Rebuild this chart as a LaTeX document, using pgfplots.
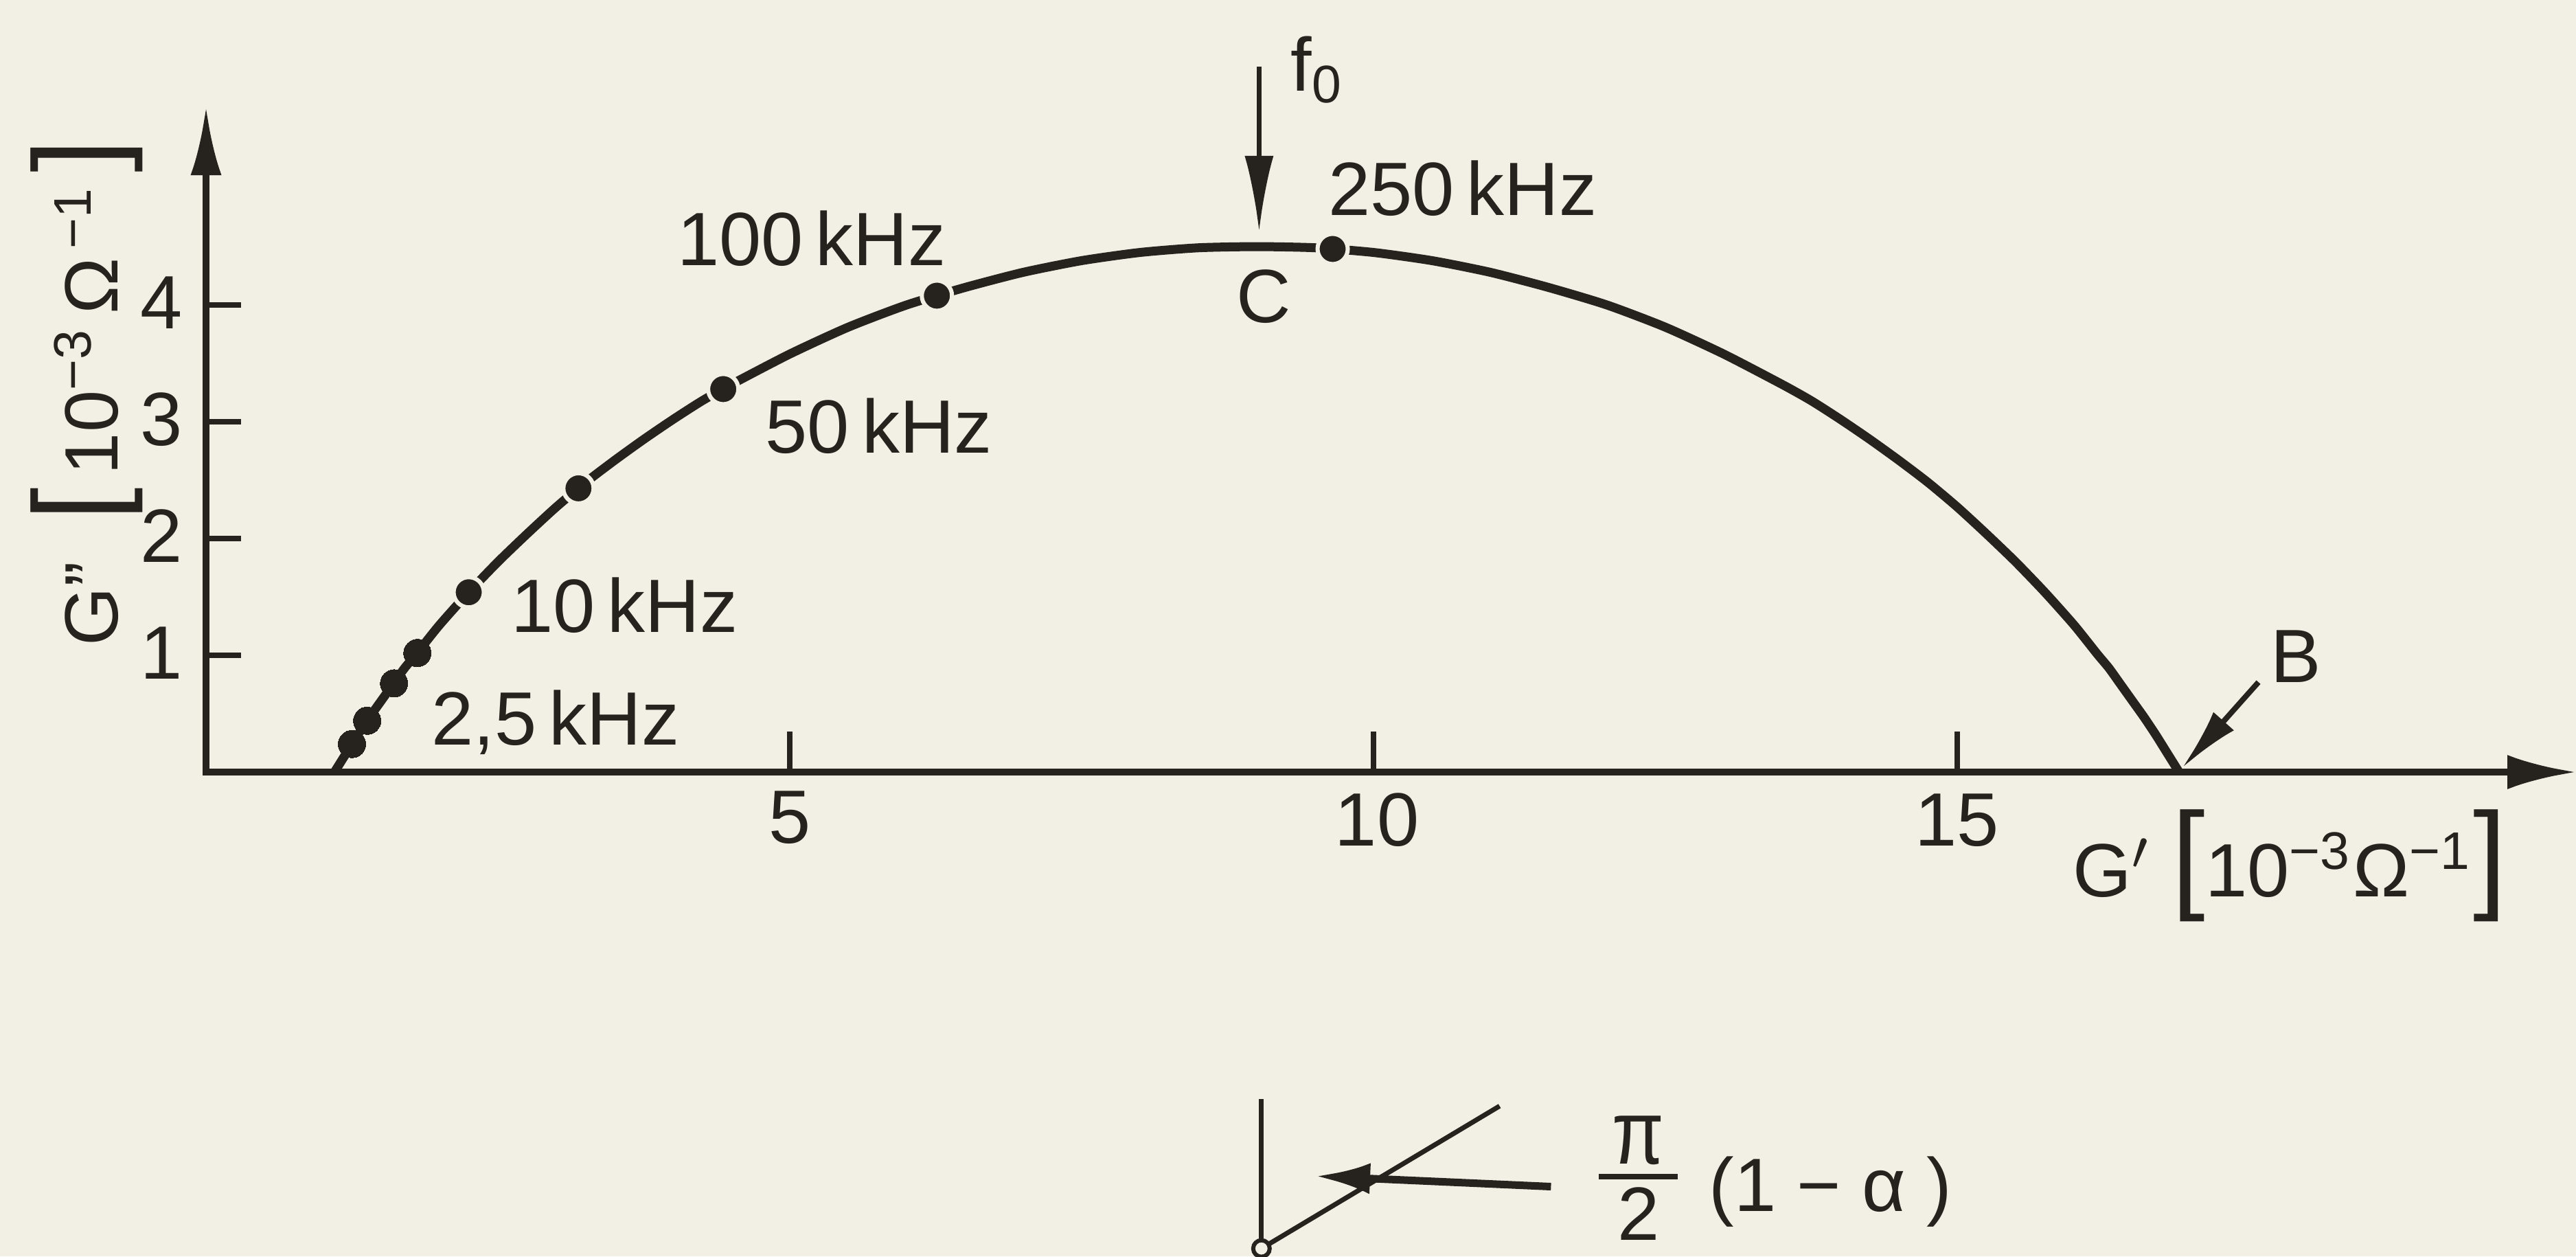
\documentclass[border=0pt]{standalone}
\usepackage{pgfplots}
\pgfplotsset{compat=1.18}
\usepackage{fontspec}
\setmainfont{Liberation Sans}
\usetikzlibrary{arrows.meta}
\definecolor{paper}{RGB}{242,240,229}
\definecolor{ink}{RGB}{38,34,30}
\newcommand\lbl{\fontsize{11}{13}\selectfont}
\newcommand\bigbr[1]{{\fontsize{17.5}{17.5}\selectfont #1}}
% pi over 2, stacked by hand
\newcommand\halfpi{%
  \rlap{\makebox[11.5pt]{\raisebox{6.9pt}{\scalebox{1}[1.2]{π}}}}%
  \rlap{\makebox[11.5pt]{\raisebox{4.6pt}{\rule{11.5pt}{0.8pt}}}}%
  \makebox[11.5pt]{\raisebox{-4.2pt}{2}}}

\begin{document}
\begin{tikzpicture}[lab/.style={font=\lbl, text=ink, inner sep=0pt}]
\begin{axis}[name=ax, hide axis, scale only axis,
  width=375.1pt, height=182.9pt,
  xmin=-1.765, xmax=20.30, ymin=-4.147, ymax=6.612, clip=false]

% paper
\fill[paper] (axis cs:-1.765,-4.147) rectangle (axis cs:20.30,6.612);

% axes with arrows
\draw[ink, line width=1pt, {Latex[length=10pt,width=4.5pt]}-{Latex[length=10pt,width=5pt]}]
  (axis cs:0,5.7) -- (axis cs:0,0) -- (axis cs:20.30,0);

% ticks
\draw[ink, line width=0.8pt] (axis cs:5,0) -- (axis cs:5,0.35);
\draw[ink, line width=0.8pt] (axis cs:10,0) -- (axis cs:10,0.35);
\draw[ink, line width=0.8pt] (axis cs:15,0) -- (axis cs:15,0.35);
\draw[ink, line width=0.8pt] (axis cs:0,1) -- (axis cs:0.3,1);
\draw[ink, line width=0.8pt] (axis cs:0,2) -- (axis cs:0.3,2);
\draw[ink, line width=0.8pt] (axis cs:0,3) -- (axis cs:0.3,3);
\draw[ink, line width=0.8pt] (axis cs:0,4) -- (axis cs:0.3,4);

% tick labels
\node[lab, anchor=base] at (axis cs:5,-0.61) {5};
\node[lab, anchor=base] at (axis cs:10.03,-0.63) {10};
\node[lab, anchor=base] at (axis cs:15,-0.63) {15};
\node[lab, anchor=base east] at (axis cs:-0.19,0.80) {1};
\node[lab, anchor=base east] at (axis cs:-0.19,1.80) {2};
\node[lab, anchor=base east] at (axis cs:-0.19,2.80) {3};
\node[lab, anchor=base east] at (axis cs:-0.19,3.80) {4};

% axis titles
\node[lab] at (axis cs:17.85,-0.80)
  {G$'$\hspace{3pt}\bigbr{[}10\textsuperscript{−3}Ω\textsuperscript{−1}\bigbr{]}};
\node[lab, rotate=90] at (axis cs:-1.02,3.25)
  {G\symbol{"22}\hspace{6pt}\bigbr{[}\,10\textsuperscript{−3}\,Ω\textsuperscript{\,−1}\,\bigbr{]}};

% admittance locus
\addplot[ink, line width=1.3pt, smooth, tension=0.4] coordinates {
  (1.1,0) (1.2,0.16) (1.3,0.32) (1.4,0.47) (1.5,0.61) (1.6,0.75) (1.7,0.89)
  (1.8,1.01) (2.0,1.26) (2.25,1.54) (2.5,1.80) (2.75,2.04) (3.0,2.27)
  (3.25,2.48) (3.5,2.67) (3.75,2.85) (4.0,3.02) (4.25,3.18) (4.5,3.32)
  (5.0,3.58) (5.5,3.81) (6.0,4.00) (6.5,4.15) (7.0,4.28) (7.5,4.38)
  (8.0,4.45) (8.5,4.49) (9.0,4.50) (9.5,4.49) (10.0,4.45) (10.5,4.38)
  (11.0,4.28) (11.5,4.15) (12.0,4.00) (12.5,3.81) (13.0,3.58) (13.5,3.32)
  (13.75,3.18) (14.0,3.02) (14.25,2.85) (14.5,2.67) (14.75,2.48) (15.0,2.27)
  (15.25,2.04) (15.5,1.80) (15.75,1.54) (16.0,1.26) (16.2,1.01) (16.3,0.89)
  (16.4,0.75) (16.5,0.61) (16.6,0.47) (16.7,0.32) (16.8,0.16) (16.9,0)
};

% measured frequencies, low end
\addplot[only marks, mark=*, mark size=2pt,
  mark options={fill=ink, draw=ink, line width=0pt}] coordinates {
  (1.25,0.24) (1.38,0.44) (1.61,0.76) (1.81,1.02)
};
% measured frequencies, upper part
\addplot[only marks, mark=*, mark size=2.2pt,
  mark options={fill=ink, draw=paper, line width=0.6pt}] coordinates {
  (2.25,1.54) (3.19,2.43) (4.43,3.28) (6.26,4.08) (9.65,4.48)
};

% frequency labels
\node[lab, anchor=base west] at (axis cs:9.60,4.77) {250\,kHz};
\node[lab, anchor=base east] at (axis cs:6.35,4.34) {100\,kHz};
\node[lab, anchor=base west] at (axis cs:4.78,2.73) {50\,kHz};
\node[lab, anchor=base west] at (axis cs:2.60,1.20) {10\,kHz};
\node[lab, anchor=base west] at (axis cs:1.92,0.23) {2,5\,kHz};

% characteristic frequency and point C
\draw[ink, line width=0.7pt, -{Latex[length=11pt,width=4.2pt]}]
  (axis cs:9.02,6.04) -- (axis cs:9.02,4.63);
\node[lab, anchor=base west] at (axis cs:9.28,5.83) {f\textsubscript{0}};
\node[lab, anchor=base] at (axis cs:9.06,3.85) {C};

% point B
\draw[ink, line width=0.8pt, -{Latex[length=9pt,width=4pt]}]
  (axis cs:17.58,0.77) -- (axis cs:16.93,0.04);
\node[lab, anchor=base] at (axis cs:17.9,0.77) {B};

% depression angle sketch
\draw[ink, line width=0.7pt] (axis cs:9.04,-2.8) -- (axis cs:9.04,-4.05);
\draw[ink, line width=0.7pt] (axis cs:9.04,-4.08) -- (axis cs:11.08,-2.86);
\draw[ink, line width=0.6pt, fill=paper] (axis cs:9.04,-4.08) circle[radius=1.2pt];
\draw[ink, line width=1.1pt, -{Latex[length=8pt,width=4.5pt]}]
  (axis cs:11.52,-3.55) -- (axis cs:9.5,-3.46);
\node[lab, anchor=base west] at (axis cs:11.92,-3.76)
  {\halfpi\hspace{4.5pt}(1 − α )};
\end{axis}
\pgfresetboundingbox
\useasboundingbox (ax.south west) rectangle (ax.north east);
\end{tikzpicture}
\end{document}
